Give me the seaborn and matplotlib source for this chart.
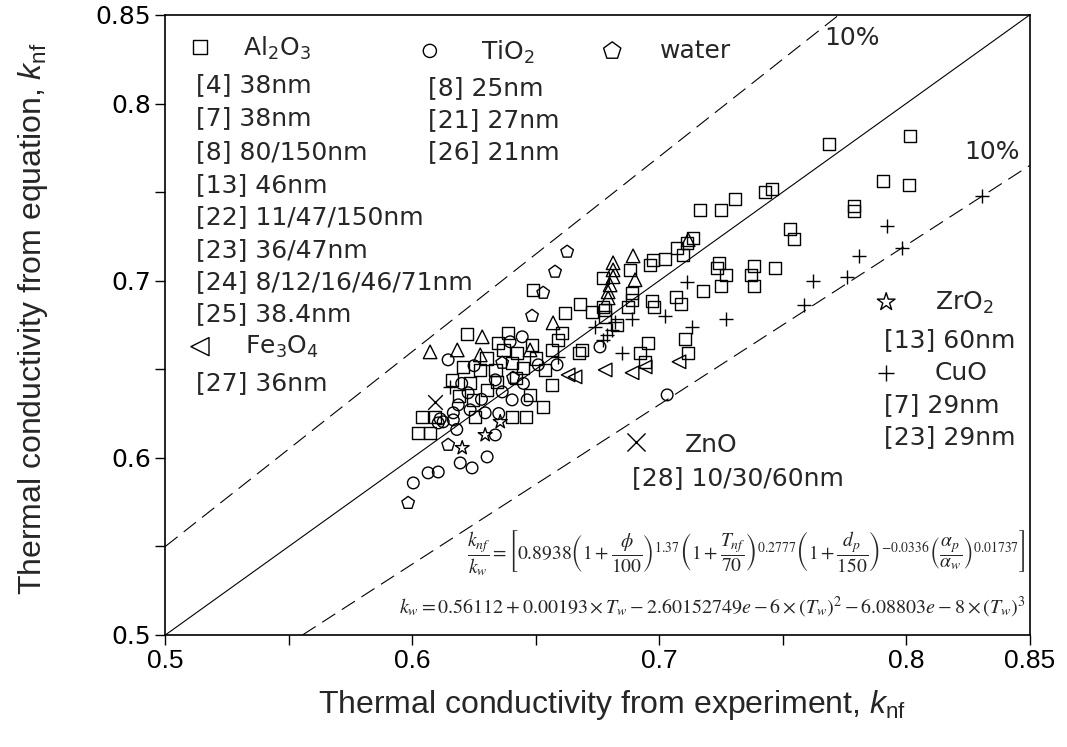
import numpy as np
import pandas as pd
import matplotlib
matplotlib.use("Agg")
import matplotlib.pyplot as plt
import seaborn as sns

# ---------------- data (experiment k_nf, equation k_nf) ----------------
al2o3_x = [0.8015, 0.7687, 0.7906, 0.8011, 0.7788, 0.7788, 0.7456, 0.7428, 0.7307, 0.7250,
           0.7165, 0.7529, 0.7546, 0.7137, 0.7113, 0.7072, 0.7096, 0.7024, 0.6975, 0.6963,
           0.6882, 0.6773, 0.7242, 0.7234, 0.7270, 0.7250, 0.7177, 0.7384, 0.7372, 0.7384,
           0.7469, 0.7068, 0.7088, 0.6971, 0.6979, 0.6890, 0.6890, 0.6874, 0.6781, 0.6781,
           0.6773, 0.6728, 0.6680, 0.6619, 0.6489, 0.6829, 0.6955, 0.6922, 0.6943, 0.7104,
           0.7117, 0.6688, 0.6675, 0.6607, 0.6222, 0.6388, 0.6348, 0.6425, 0.6485, 0.6566,
           0.6590, 0.6206, 0.6275, 0.6336, 0.6404, 0.6449, 0.6538, 0.6234, 0.6344, 0.6566,
           0.6530, 0.6404, 0.6461, 0.6246, 0.6303, 0.6255, 0.6040, 0.6093, 0.6024, 0.6072,
           0.6477, 0.6160, 0.6300, 0.6420, 0.6500, 0.6190, 0.6370]
al2o3_y = [0.7818, 0.7773, 0.7564, 0.7541, 0.7423, 0.7394, 0.7519, 0.7502, 0.7462, 0.7400,
           0.7400, 0.7293, 0.7236, 0.7242, 0.7214, 0.7185, 0.7146, 0.7123, 0.7118, 0.7089,
           0.7061, 0.7016, 0.7101, 0.7072, 0.7033, 0.6971, 0.6943, 0.7084, 0.7033, 0.6971,
           0.7072, 0.6909, 0.6869, 0.6886, 0.6852, 0.6931, 0.6892, 0.6852, 0.6835, 0.6796,
           0.6852, 0.6824, 0.6869, 0.6818, 0.6948, 0.6751, 0.6649, 0.6592, 0.6542, 0.6672,
           0.6592, 0.6609, 0.6592, 0.6705, 0.6700, 0.6705, 0.6649, 0.6592, 0.6638, 0.6609,
           0.6666, 0.6513, 0.6496, 0.6496, 0.6536, 0.6508, 0.6496, 0.6423, 0.6429, 0.6412,
           0.6288, 0.6231, 0.6231, 0.6327, 0.6384, 0.6231, 0.6231, 0.6231, 0.6141, 0.6141,
           0.6355, 0.6440, 0.6560, 0.6450, 0.6560, 0.6350, 0.6610]

tri_x = [0.6072, 0.6182, 0.6283, 0.6275, 0.6477, 0.6570, 0.6813, 0.6813, 0.6813, 0.6801,
         0.6793, 0.6793, 0.6894, 0.6902, 0.7117]
tri_y = [0.6598, 0.6609, 0.6683, 0.6581, 0.6609, 0.6762, 0.7101, 0.7061, 0.7022, 0.6976,
         0.6937, 0.6903, 0.7140, 0.7005, 0.7231]

tio2_x = [0.6145, 0.6396, 0.6445, 0.6510, 0.6586, 0.6295, 0.6105, 0.6125, 0.6166, 0.6186,
          0.6226, 0.6336, 0.6364, 0.6404, 0.6465, 0.6113, 0.6166, 0.6336, 0.6303, 0.6194,
          0.6242, 0.6064, 0.6105, 0.6004, 0.6760, 0.7032, 0.6234, 0.6200, 0.6280, 0.6350,
          0.6450, 0.6250, 0.6180]
tio2_y = [0.6553, 0.6655, 0.6683, 0.6525, 0.6525, 0.6254, 0.6197, 0.6203, 0.6214, 0.6299,
          0.6367, 0.6440, 0.6372, 0.6327, 0.6327, 0.6220, 0.6254, 0.6129, 0.6005, 0.5971,
          0.5943, 0.5915, 0.5920, 0.5858, 0.6626, 0.6355, 0.6271, 0.6420, 0.6330, 0.6250,
          0.6420, 0.6520, 0.6160]

water_x = [0.6627, 0.6578, 0.6530, 0.6485, 0.6364, 0.6408, 0.6145, 0.5983]
water_y = [0.7163, 0.7050, 0.6931, 0.6801, 0.6536, 0.6451, 0.6073, 0.5745]

fe3o4_x = [0.6781, 0.6890, 0.6943, 0.7080, 0.6631, 0.6659]
fe3o4_y = [0.6496, 0.6480, 0.6513, 0.6542, 0.6468, 0.6457]

zro2_x = [0.6295, 0.6202, 0.6356]
zro2_y = [0.6129, 0.6056, 0.6203]

cuo_x = [0.8306, 0.7922, 0.7983, 0.7809, 0.7760, 0.7622, 0.7586, 0.7270, 0.7133, 0.7113,
         0.7024, 0.6849, 0.6740, 0.6153, 0.6890, 0.6590, 0.6809, 0.6789, 0.6821, 0.6773]
cuo_y = [0.7479, 0.7310, 0.7185, 0.7140, 0.7022, 0.6999, 0.6864, 0.6784, 0.6739, 0.6993,
         0.6801, 0.6592, 0.6739, 0.6400, 0.6784, 0.6570, 0.6722, 0.6694, 0.6767, 0.6666]

zno_x = [0.6093]
zno_y = [0.6316]

tick_vals = [0.5, 0.55, 0.6, 0.65, 0.7, 0.75, 0.8, 0.85]
tick_labels = ["0.5", "", "0.6", "", "0.7", "", "0.8", "0.85"]

# ---------------- style ----------------
sns.set_style("ticks")
plt.rcParams["font.family"] = ["Liberation Sans", "DejaVu Sans"]
plt.rcParams["mathtext.fontset"] = "custom"
plt.rcParams["mathtext.rm"] = "Liberation Sans"
plt.rcParams["mathtext.it"] = "Liberation Sans:italic"

fig = plt.figure(figsize=(10.67, 7.47), dpi=100)
ax = fig.add_axes([0.155, 0.15, 0.81, 0.83])

series = [
    ("Al2O3", al2o3_x, al2o3_y, "s", True),
    ("other", tri_x, tri_y, "^", True),
    ("TiO2", tio2_x, tio2_y, "o", True),
    ("water", water_x, water_y, "p", True),
    ("Fe3O4", fe3o4_x, fe3o4_y, "<", True),
    ("ZrO2", zro2_x, zro2_y, "*", True),
    ("CuO", cuo_x, cuo_y, "+", False),
    ("ZnO", zno_x, zno_y, "x", False),
]
sizes = {"s": 80, "^": 95, "o": 70, "p": 90, "<": 95, "*": 110, "+": 110, "x": 110}

for name, xs, ys, mk, filled in series:
    df = pd.DataFrame({"exp": xs, "eq": ys})
    if filled:
        sns.scatterplot(data=df, x="exp", y="eq", marker=mk, s=sizes[mk],
                        facecolors="none", edgecolor="black", linewidth=1.0, ax=ax, zorder=3)
    else:
        sns.scatterplot(data=df, x="exp", y="eq", marker=mk, s=sizes[mk],
                        color="black", linewidth=1.0, ax=ax, zorder=3)

# reference lines
lx = np.array([0.5, 0.85])
ax.plot(lx, lx, color="black", lw=0.8, zorder=2)
ax.plot(lx, 1.1 * lx, color="black", lw=0.8, dashes=(14, 7), zorder=2)
ax.plot(lx, 0.9 * lx, color="black", lw=0.8, dashes=(14, 7), zorder=2)

ax.set_xlim(0.5, 0.85)
ax.set_ylim(0.5, 0.85)
ax.set_xticks(tick_vals)
ax.set_xticklabels(tick_labels)
ax.set_yticks(tick_vals)
ax.set_yticklabels(tick_labels, family=["DejaVu Sans"])
ax.tick_params(direction="out", length=7, width=1, colors="black", pad=3)
ax.tick_params(axis="x", labelsize=19)
ax.tick_params(axis="y", labelsize=18)
for sp in ax.spines.values():
    sp.set_visible(True)
    sp.set_linewidth(1.2)
    sp.set_color("black")

ax.set_xlabel(r"Thermal conductivity from experiment, $\mathit{k}_{\mathregular{nf}}$",
              fontsize=23)
ax.set_ylabel(r"Thermal conductivity from equation, $\mathit{k}_{\mathregular{nf}}$",
              fontsize=23)
ax.xaxis.set_label_coords(0.517, -0.085)
ax.yaxis.set_label_coords(-0.134, 0.51)

# ---------------- in-plot legend ----------------
T = ax.transAxes
lf = {"fontsize": 18, "family": ["DejaVu Sans"], "transform": T, "va": "center"}
def key(x, y, mk, filled=True, s=90):
    if filled:
        ax.scatter([x], [y], marker=mk, s=s, facecolors="none", edgecolors="black",
                   linewidths=1.0, transform=T, clip_on=False)
    else:
        ax.scatter([x], [y], marker=mk, s=s, color="black", linewidths=1.0,
                   transform=T, clip_on=False)

key(0.040, 0.948, "s", s=100)
ax.text(0.090, 0.946, r"Al$_{\mathregular{2}}$O$_{\mathregular{3}}$", **lf)
al_refs = ["[4] 38nm", "[7] 38nm", "[8] 80/150nm", "[13] 46nm", "[22] 11/47/150nm",
           "[23] 36/47nm", "[24] 8/12/16/46/71nm", "[25] 38.4nm"]
al_ys = [0.887, 0.834, 0.779, 0.726, 0.674, 0.621, 0.569, 0.518]
for t, yy in zip(al_refs, al_ys):
    ax.text(0.035, yy, t, **lf)
key(0.040, 0.465, "<", s=170)
ax.text(0.092, 0.465, r"Fe$_{\mathregular{3}}$O$_{\mathregular{4}}$", **lf)
ax.text(0.035, 0.406, "[27] 36nm", **lf)

key(0.306, 0.942, "o", s=90)
ax.text(0.365, 0.940, r"TiO$_{\mathregular{2}}$", **lf)
for t, yy in zip(["[8] 25nm", "[21] 27nm", "[26] 21nm"], [0.882, 0.831, 0.779]):
    ax.text(0.304, yy, t, **lf)

key(0.517, 0.942, "p", s=170)
ax.text(0.572, 0.942, "water", **lf)

key(0.834, 0.537, "*", s=180)
ax.text(0.890, 0.535, r"ZrO$_{\mathregular{2}}$", **lf)
ax.text(0.831, 0.476, "[13] 60nm", **lf)
key(0.834, 0.423, "+", filled=False, s=130)
ax.text(0.890, 0.423, "CuO", **lf)
ax.text(0.831, 0.371, "[7] 29nm", **lf)
ax.text(0.831, 0.319, "[23] 29nm", **lf)

key(0.545, 0.311, "x", filled=False, s=170)
ax.text(0.601, 0.306, "ZnO", **lf)
ax.text(0.540, 0.253, "[28] 10/30/60nm", **lf)

ax.text(0.794, 0.963, "10%", fontsize=18, family=["DejaVu Sans"], transform=T,
        ha="center", va="center")
ax.text(0.957, 0.779, "10%", fontsize=18, family=["DejaVu Sans"], transform=T,
        ha="center", va="center")

eq1 = (r"$\dfrac{k_{nf}}{k_w}=\left[0.8938\left(1+\dfrac{\phi}{100}\right)^{1.37}"
       r"\left(1+\dfrac{T_{nf}}{70}\right)^{0.2777}\left(1+\dfrac{d_p}{150}\right)^{-0.0336}"
       r"\left(\dfrac{\alpha_p}{\alpha_w}\right)^{0.01737}\right]$")
eq2 = (r"$k_w=0.56112+0.00193\times T_w-2.60152749e-6\times\left(T_w\right)^2"
       r"-6.08803e-8\times\left(T_w\right)^3$")
ax.text(0.672, 0.132, eq1, fontsize=14, transform=T, ha="center", va="center",
        math_fontfamily="stix")
ax.text(0.633, 0.045, eq2, fontsize=14.4, transform=T, ha="center", va="center",
        math_fontfamily="stix")

fig.savefig("out.png", dpi=100, facecolor="white")
